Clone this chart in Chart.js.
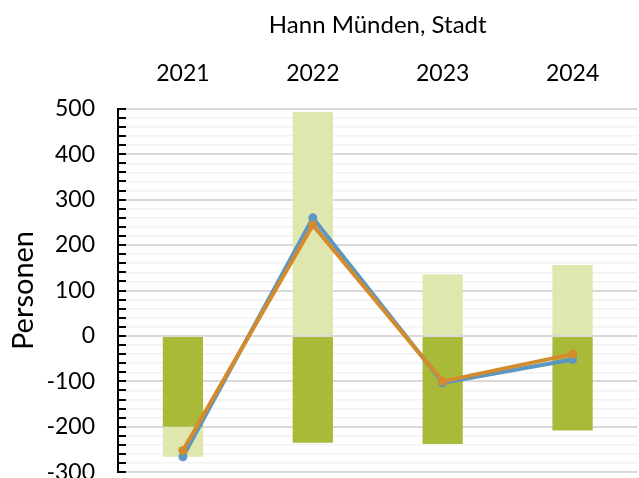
<!DOCTYPE html>
<html lang="de">
<head>
<meta charset="UTF-8">
<title>Hann Münden, Stadt</title>
<script src="https://cdn.jsdelivr.net/npm/chart.js"></script>
<style>
  html, body { margin: 0; padding: 0; overflow: hidden; background: #fff; }
  #wrap { position: relative; width: 642px; height: 509px; }
</style>
</head>
<body>
<div id="wrap"><canvas id="chart"></canvas></div>
<script>
// values
const years = ['2021', '2022', '2023', '2024'];
const darkBars = [-200, -235, -238, -208];
const lightBars = [-66, 493, 135, 156];
const blueLine = [-266, 260, -103, -52];
const orangeLine = [-252, 244, -100, -40];
const yMin = -300;
const yMax = 500;

Chart.defaults.font.family = 'Lato, "Open Sans", sans-serif';
Chart.defaults.color = '#000';

// small tick marks on the inner side of the y axis
const innerTicks = {
    id: 'innerTicks',
    afterDraw(chart) {
        const y = chart.scales.y;
        const ctx = chart.ctx;
        const x0 = chart.chartArea.left;
        ctx.save();
        ctx.strokeStyle = '#000';
        ctx.lineWidth = 2;
        y.ticks.forEach((t, i) => {
            const py = Math.round(y.getPixelForTick(i));
            ctx.beginPath();
            ctx.moveTo(x0 - 1, py);
            ctx.lineTo(x0 + 8, py);
            ctx.stroke();
        });
        ctx.restore();
    }
};

new Chart(document.getElementById('chart').getContext('2d'), {
    type: 'bar',
    data: {
        labels: years,
        datasets: [
            {
                type: 'line',
                data: orangeLine,
                borderColor: '#d48b2d',
                backgroundColor: '#d48b2d',
                borderWidth: 4,
                pointRadius: 4.5,
                pointBorderWidth: 0,
                tension: 0,
                stack: 'orange',
                order: 0
            },
            {
                type: 'line',
                data: blueLine,
                borderColor: '#5b97c3',
                backgroundColor: '#5b97c3',
                borderWidth: 4,
                pointRadius: 4.5,
                pointBorderWidth: 0,
                tension: 0,
                stack: 'blue',
                order: 1
            },
            {
                data: darkBars,
                backgroundColor: '#a8ba38',
                stack: 'bars',
                order: 2
            },
            {
                data: lightBars,
                backgroundColor: '#dfe6ae',
                stack: 'bars',
                order: 2
            }
        ]
    },
    options: {
        responsive: true,
        maintainAspectRatio: false,
        animation: false,
        layout: { padding: 0 },
        datasets: {
            bar: { categoryPercentage: 1, barPercentage: 0.31 }
        },
        plugins: {
            legend: { display: false },
            tooltip: { enabled: false },
            title: {
                display: true,
                fullSize: false,
                text: 'Hann Münden, Stadt',
                font: { size: 24, weight: 'normal' },
                color: '#000',
                padding: { top: 11, bottom: 0 }
            }
        },
        scales: {
            x: {
                position: 'top',
                stacked: true,
                grid: { display: false },
                border: { display: false },
                ticks: { font: { size: 23 }, padding: 13 },
                afterFit(scale) { scale.height = 69; }
            },
            y: {
                stacked: true,
                min: yMin,
                max: yMax,
                ticks: {
                    stepSize: 20,
                    autoSkip: false,
                    font: { size: 23 },
                    padding: 23,
                    callback: v => (v % 100 === 0 ? String(v) : '')
                },
                grid: {
                    drawTicks: false,
                    color: c => (c.tick && c.tick.value % 100 === 0 ? '#d9d9d9' : '#f2f2f2'),
                    lineWidth: c => (c.tick && c.tick.value % 100 === 0 ? 2 : 1.5)
                },
                border: { color: '#000', width: 2 },
                title: {
                    display: true,
                    text: 'Personen',
                    font: { size: 29 },
                    color: '#000',
                    padding: { top: 6, bottom: 0 }
                },
                afterFit(scale) { scale.width = 118; }
            }
        }
    },
    plugins: [innerTicks]
});
</script>
</body>
</html>
